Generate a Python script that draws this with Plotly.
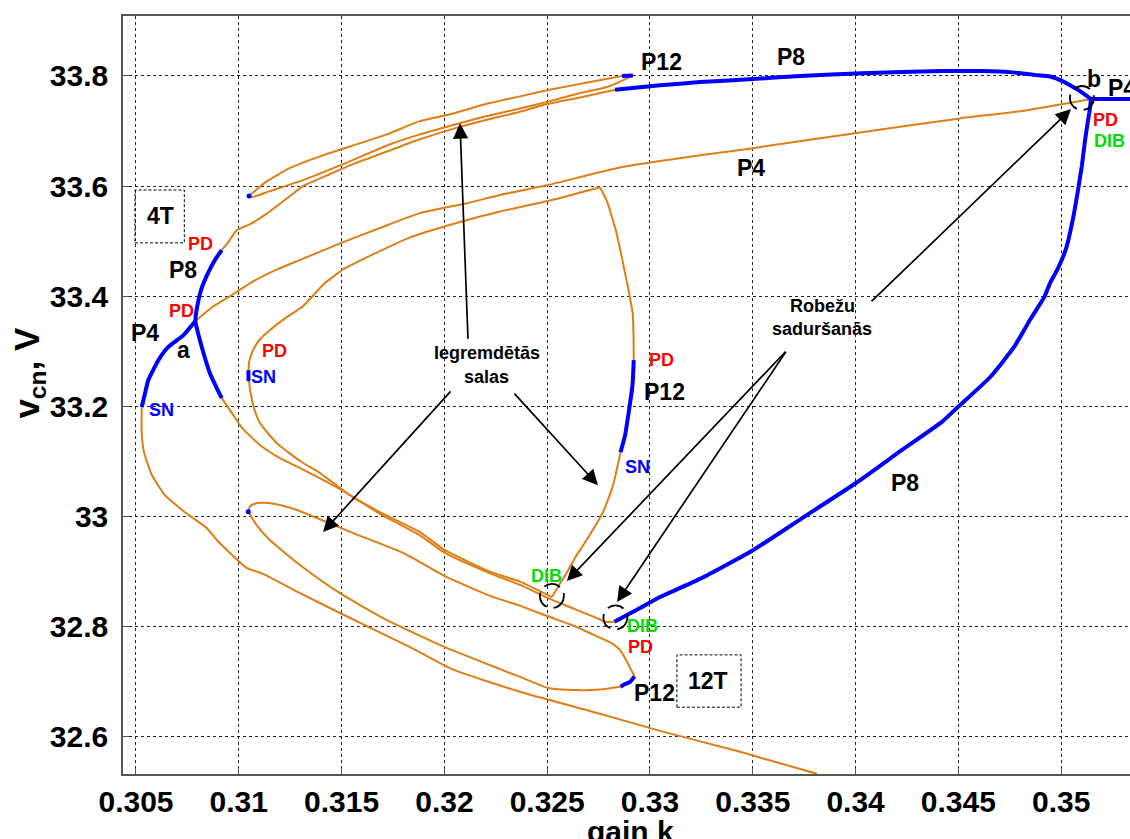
import plotly.graph_objects as go

ORANGE = "#DE7E16"
BLUE = "#0000FF"
RED = "#FF0000"
GREEN = "#00DD00"
FONT = "Liberation Sans, Arial, sans-serif"

# ---------------- axes ----------------
x_tick_vals = [0.305, 0.31, 0.315, 0.32, 0.325, 0.33, 0.335, 0.34, 0.345, 0.35]
x_tick_text = ["0.305", "0.31", "0.315", "0.32", "0.325", "0.33", "0.335", "0.34", "0.345", "0.35"]
y_tick_vals = [32.6, 32.8, 33.0, 33.2, 33.4, 33.6, 33.8]
y_tick_text = ["32.6", "32.8", "33", "33.2", "33.4", "33.6", "33.8"]

# ---------------- P4 branch ----------------
p4_stable_left_k = [0.30528, 0.30544, 0.30560, 0.30609, 0.30657, 0.30730, 0.30789]
p4_stable_left_v = [33.199, 33.224, 33.248, 33.284, 33.308, 33.329, 33.355]

p4_unstable_k = [0.30789, 0.30870, 0.30982, 0.31069, 0.31176, 0.31298, 0.31492, 0.31687,
                 0.31881, 0.32110, 0.32271, 0.32504, 0.32854, 0.33243, 0.33501, 0.34031,
                 0.34508, 0.34800, 0.35053, 0.35145]
p4_unstable_v = [33.355, 33.380, 33.406, 33.427, 33.447, 33.466, 33.496, 33.524,
                 33.551, 33.569, 33.584, 33.602, 33.634, 33.656, 33.669, 33.698,
                 33.723, 33.736, 33.752, 33.758]

p4_stable_right_k = [0.35145, 0.3545]
p4_stable_right_v = [33.758, 33.758]

p4_lower_k = [0.30528, 0.30527, 0.30539, 0.30578, 0.30641, 0.30738, 0.30845, 0.30894,
              0.30957, 0.31038, 0.31118, 0.31298, 0.31492, 0.31833, 0.32037, 0.32368,
              0.32757, 0.33049, 0.33438, 0.33812]
p4_lower_v = [33.199, 33.157, 33.117, 33.075, 33.039, 33.008, 32.979, 32.957,
              32.934, 32.907, 32.896, 32.861, 32.825, 32.763, 32.723, 32.682,
              32.642, 32.611, 32.573, 32.533]

# ---------------- P8 loop ----------------
p8_stable_left_k = [0.30917, 0.30884, 0.30850, 0.30816, 0.30799, 0.30789, 0.30820, 0.30860, 0.30917]
p8_stable_left_v = [33.484, 33.466, 33.442, 33.411, 33.384, 33.355, 33.308, 33.260, 33.215]

p8_unstable_lower_k = [0.30917, 0.30967, 0.31016, 0.31103, 0.31200, 0.31298, 0.31492, 0.31687,
                       0.31881, 0.32003, 0.32222, 0.32368, 0.32504, 0.32635, 0.32747, 0.32781,
                       0.32827]
p8_unstable_lower_v = [33.215, 33.188, 33.161, 33.130, 33.106, 33.088, 33.050, 33.005,
                       32.966, 32.934, 32.897, 32.876, 32.852, 32.832, 32.815, 32.809,
                       32.809]

p8_stable_right_k = [0.32827, 0.32952, 0.33049, 0.33243, 0.33501, 0.33735, 0.34002, 0.34226,
                     0.34420, 0.34498, 0.34654, 0.34771, 0.34848, 0.34917, 0.34946, 0.34985,
                     0.35024, 0.35058, 0.35082, 0.35101, 0.35116, 0.35131, 0.35140, 0.35145]
p8_stable_right_v = [32.809, 32.834, 32.854, 32.887, 32.939, 32.996, 33.061, 33.121,
                     33.172, 33.199, 33.253, 33.308, 33.357, 33.398, 33.424, 33.451,
                     33.487, 33.542, 33.593, 33.638, 33.683, 33.720, 33.741, 33.758]

p8_stable_top_k = [0.35145, 0.35106, 0.35058, 0.35004, 0.34946, 0.34868, 0.34751, 0.34615,
                   0.34420, 0.34031, 0.33730, 0.33482, 0.33243, 0.33049, 0.32830]
p8_stable_top_v = [33.758, 33.769, 33.780, 33.791, 33.799, 33.802, 33.807, 33.809,
                   33.809, 33.805, 33.800, 33.794, 33.789, 33.783, 33.775]

p8_unstable_upper_k = [0.32830, 0.32660, 0.32499, 0.32368, 0.32202, 0.32042, 0.31881, 0.31736,
                       0.31556, 0.31444, 0.31312, 0.31249, 0.31136, 0.31055, 0.30990, 0.30948,
                       0.30917]
p8_unstable_upper_v = [33.775, 33.761, 33.749, 33.735, 33.720, 33.704, 33.685, 33.665,
                       33.640, 33.622, 33.600, 33.582, 33.550, 33.531, 33.520, 33.498,
                       33.484]

# ---------------- upper P12 island ----------------
isl_up_out_k = [0.31050, 0.31084, 0.31137, 0.31249, 0.31395, 0.31541, 0.31721, 0.31881,
                0.32042, 0.32202, 0.32368, 0.32499, 0.32708, 0.32864]
isl_up_out_v = [33.582, 33.593, 33.609, 33.633, 33.654, 33.672, 33.694, 33.718,
                33.732, 33.749, 33.763, 33.774, 33.789, 33.800]
isl_up_stable_k = [0.32864, 0.32917]
isl_up_stable_v = [33.800, 33.801]
isl_up_back_k = [0.32917, 0.32879, 0.32791, 0.32660, 0.32499, 0.32368, 0.32202, 0.32042,
                 0.31881, 0.31736, 0.31507, 0.31312, 0.31152, 0.31064, 0.31050]
isl_up_back_v = [33.801, 33.794, 33.780, 33.769, 33.753, 33.741, 33.727, 33.711,
                 33.694, 33.676, 33.640, 33.611, 33.591, 33.580, 33.582]

# ---------------- middle P12 island ----------------
isl_mid_top_k = [0.31047, 0.31050, 0.31069, 0.31103, 0.31152, 0.31225, 0.31312, 0.31419,
                 0.31517, 0.31624, 0.31833, 0.32076, 0.32271, 0.32514, 0.32757]
isl_mid_top_v = [33.255, 33.280, 33.302, 33.322, 33.339, 33.360, 33.382, 33.424,
                 33.451, 33.471, 33.507, 33.535, 33.554, 33.574, 33.598]
isl_mid_right_k = [0.32757, 0.32789, 0.32815, 0.32837, 0.32864, 0.32886, 0.32903, 0.32916,
                   0.32920, 0.32921]
isl_mid_right_v = [33.598, 33.574, 33.544, 33.515, 33.469, 33.429, 33.397, 33.369,
                   33.329, 33.284]
isl_mid_stable_k = [0.32921, 0.32915, 0.32896, 0.32879, 0.32857]
isl_mid_stable_v = [33.284, 33.239, 33.188, 33.148, 33.117]
isl_mid_down_k = [0.32857, 0.32818, 0.32769, 0.32691, 0.32635, 0.32595, 0.32558, 0.32523]
isl_mid_down_v = [33.117, 33.054, 33.006, 32.957, 32.925, 32.898, 32.876, 32.854]
isl_mid_left_k = [0.31047, 0.31055, 0.31074, 0.31103, 0.31186, 0.31298, 0.31395, 0.31541,
                  0.31687, 0.31881, 0.32003, 0.32222, 0.32368, 0.32523]
isl_mid_left_v = [33.255, 33.230, 33.197, 33.170, 33.133, 33.101, 33.079, 33.039,
                  33.008, 32.972, 32.939, 32.900, 32.882, 32.854]
isl_mid_sn_k = [0.31047, 0.31047]
isl_mid_sn_v = [33.266, 33.246]

# ---------------- lower P12 island ----------------
isl_low_top_k = [0.31046, 0.31055, 0.31074, 0.31113, 0.31176, 0.31283, 0.31556, 0.31799,
                 0.32003, 0.32222, 0.32368, 0.32504, 0.32635, 0.32757, 0.32815, 0.32854,
                 0.32883, 0.32908, 0.32925]
isl_low_top_v = [33.009, 33.019, 33.023, 33.025, 33.023, 33.012, 32.970, 32.934,
                 32.892, 32.856, 32.838, 32.819, 32.801, 32.780, 32.770, 32.758,
                 32.740, 32.722, 32.710]
isl_low_stable_k = [0.32925, 0.32903, 0.32879, 0.32857]
isl_low_stable_v = [32.710, 32.700, 32.696, 32.691]
isl_low_bottom_k = [0.32857, 0.32757, 0.32635, 0.32504, 0.32368, 0.32271, 0.32003, 0.31721,
                    0.31492, 0.31312, 0.31152, 0.31084, 0.31059, 0.31046]
isl_low_bottom_v = [32.691, 32.686, 32.685, 32.689, 32.709, 32.723, 32.763, 32.812,
                    32.861, 32.908, 32.957, 32.986, 33.001, 33.009]

# island tips (single stable points)
tip_k = [0.31050, 0.31046]
tip_v = [33.582, 33.009]

unstable = [
    (p4_unstable_k, p4_unstable_v), (p4_lower_k, p4_lower_v),
    (p8_unstable_lower_k, p8_unstable_lower_v), (p8_unstable_upper_k, p8_unstable_upper_v),
    (isl_up_out_k, isl_up_out_v), (isl_up_back_k, isl_up_back_v),
    (isl_mid_top_k, isl_mid_top_v), (isl_mid_right_k, isl_mid_right_v),
    (isl_mid_down_k, isl_mid_down_v), (isl_mid_left_k, isl_mid_left_v),
    (isl_low_top_k, isl_low_top_v), (isl_low_bottom_k, isl_low_bottom_v),
]
stable = [
    (p4_stable_left_k, p4_stable_left_v), (p4_stable_right_k, p4_stable_right_v),
    (p8_stable_left_k, p8_stable_left_v), (p8_stable_right_k, p8_stable_right_v),
    (p8_stable_top_k, p8_stable_top_v), (isl_up_stable_k, isl_up_stable_v),
    (isl_mid_stable_k, isl_mid_stable_v), (isl_mid_sn_k, isl_mid_sn_v),
    (isl_low_stable_k, isl_low_stable_v),
]

fig = go.Figure()
for k, v in unstable:
    fig.add_trace(go.Scatter(x=k, y=v, mode="lines",
                             line=dict(color=ORANGE, width=2, shape="spline", smoothing=0.5),
                             hoverinfo="skip", showlegend=False))
for k, v in stable:
    fig.add_trace(go.Scatter(x=k, y=v, mode="lines",
                             line=dict(color=BLUE, width=4, shape="spline", smoothing=0.5),
                             hoverinfo="skip", showlegend=False))
fig.add_trace(go.Scatter(x=tip_k, y=tip_v, mode="markers", marker=dict(color=BLUE, size=5),
                         hoverinfo="skip", showlegend=False))

# ---------------- labels ----------------
labels = [
    ("4T", 0.30617, 33.545, "black", 23),
    ("PD", 0.30816, 33.495, RED, 18),
    ("P8", 0.30729, 33.447, "black", 23),
    ("PD", 0.30722, 33.373, RED, 18),
    ("P4", 0.30544, 33.333, "black", 23),
    ("a", 0.30730, 33.302, "black", 23),
    ("SN", 0.30626, 33.193, BLUE, 18),
    ("PD", 0.31176, 33.300, RED, 18),
    ("SN", 0.31118, 33.253, BLUE, 18),
    ("P12", 0.33054, 33.826, "black", 23),
    ("P8", 0.33686, 33.834, "black", 23),
    ("P4", 0.33491, 33.633, "black", 23),
    ("b", 0.35160, 33.794, "black", 23),
    ("P4", 0.35296, 33.779, "black", 23),
    ("PD", 0.35218, 33.720, RED, 18),
    ("DIB", 0.35233, 33.682, GREEN, 18),
    ("Iegremdētās", 0.32207, 33.297, "black", 18),
    ("salas", 0.32207, 33.253, "black", 18),
    ("Robežu", 0.33837, 33.382, "black", 18),
    ("saduršanās", 0.33837, 33.340, "black", 18),
    ("PD", 0.33054, 33.284, RED, 18),
    ("P12", 0.33073, 33.226, "black", 23),
    ("SN", 0.32937, 33.090, BLUE, 18),
    ("P8", 0.34240, 33.061, "black", 23),
    ("DIB", 0.32499, 32.892, GREEN, 18),
    ("DIB", 0.32966, 32.801, GREEN, 18),
    ("PD", 0.32956, 32.763, RED, 18),
    ("P12", 0.33020, 32.680, "black", 23),
    ("12T", 0.33282, 32.702, "black", 23),
]
annotations = []
for text, k, v, color, size in labels:
    annotations.append(dict(x=k, y=v, xref="x", yref="y", text=text, showarrow=False,
                            xanchor="center", yanchor="middle",
                            font=dict(family=FONT, size=size, color=color, weight="bold")))

# arrows: (head k, head v, tail k, tail v)
arrows = [
    (0.32076, 33.714, 0.32115, 33.320),
    (0.31410, 32.972, 0.32037, 33.230),
    (0.32747, 33.057, 0.32334, 33.226),
    (0.35048, 33.740, 0.34070, 33.388),
    (0.32596, 32.883, 0.33666, 33.302),
    (0.32840, 32.845, 0.33666, 33.302),
]
for hk, hv, tk, tv in arrows:
    annotations.append(dict(x=hk, y=hv, ax=tk, ay=tv, xref="x", yref="y", axref="x", ayref="y",
                            text="", showarrow=True, arrowhead=2, arrowsize=1.8,
                            arrowwidth=1.7, arrowcolor="black", standoff=0, startstandoff=0))

# axis titles
annotations.append(dict(x=0.5035, y=-0.051, xref="paper", yref="paper", text="gain k",
                        showarrow=False, xanchor="center", yanchor="top",
                        font=dict(family=FONT, size=30, color="black", weight="bold")))
annotations.append(dict(x=-0.093, y=0.53, xref="paper", yref="paper",
                        text="v<sub>cn</sub>, V", textangle=-90, showarrow=False,
                        xanchor="center", yanchor="middle",
                        font=dict(family=FONT, size=35, color="black", weight="bold")))

# ---------------- shapes ----------------
shapes = []
# dashed rings around border-collision points
collision_points = [(0.32523, 32.856), (0.32832, 32.817), (0.35101, 33.760)]
for k, v in collision_points:
    shapes.append(dict(type="circle", xref="x", yref="y", xsizemode="pixel", ysizemode="pixel",
                       xanchor=k, yanchor=v, x0=-12, x1=12, y0=-12, y1=12,
                       line=dict(color="black", width=1.8, dash="17px,7px")))
# dotted boxes around region labels
boxes = [(0.30495, 33.497, 0.30735, 33.593), (0.33131, 32.654, 0.33443, 32.749)]
for k0, v0, k1, v1 in boxes:
    shapes.append(dict(type="rect", xref="x", yref="y", x0=k0, y0=v0, x1=k1, y1=v1,
                       line=dict(color="black", width=1, dash="3px,2px")))

axis_common = dict(showgrid=True, gridcolor="#222222", gridwidth=1, griddash="dot",
                   zeroline=False, showline=True, linecolor="#555555", linewidth=1.5,
                   ticks="inside", ticklen=6, tickcolor="#555555", automargin=False,
                   tickfont=dict(family=FONT, size=30, color="black", weight="bold"))

fig.update_layout(
    template="none",
    width=1130, height=839,
    margin=dict(l=123, r=0, t=16, b=65),
    paper_bgcolor="white", plot_bgcolor="white",
    xaxis=dict(range=[0.304368, 0.353348], tickvals=x_tick_vals, ticktext=x_tick_text,
               mirror=True, ticklabelstandoff=0, **axis_common),
    yaxis=dict(range=[32.5327, 33.9089], tickvals=y_tick_vals, ticktext=y_tick_text,
               mirror=False, ticklabelstandoff=7, **axis_common),
    annotations=annotations,
    shapes=shapes,
    showlegend=False,
)

fig.write_html("out.html")
